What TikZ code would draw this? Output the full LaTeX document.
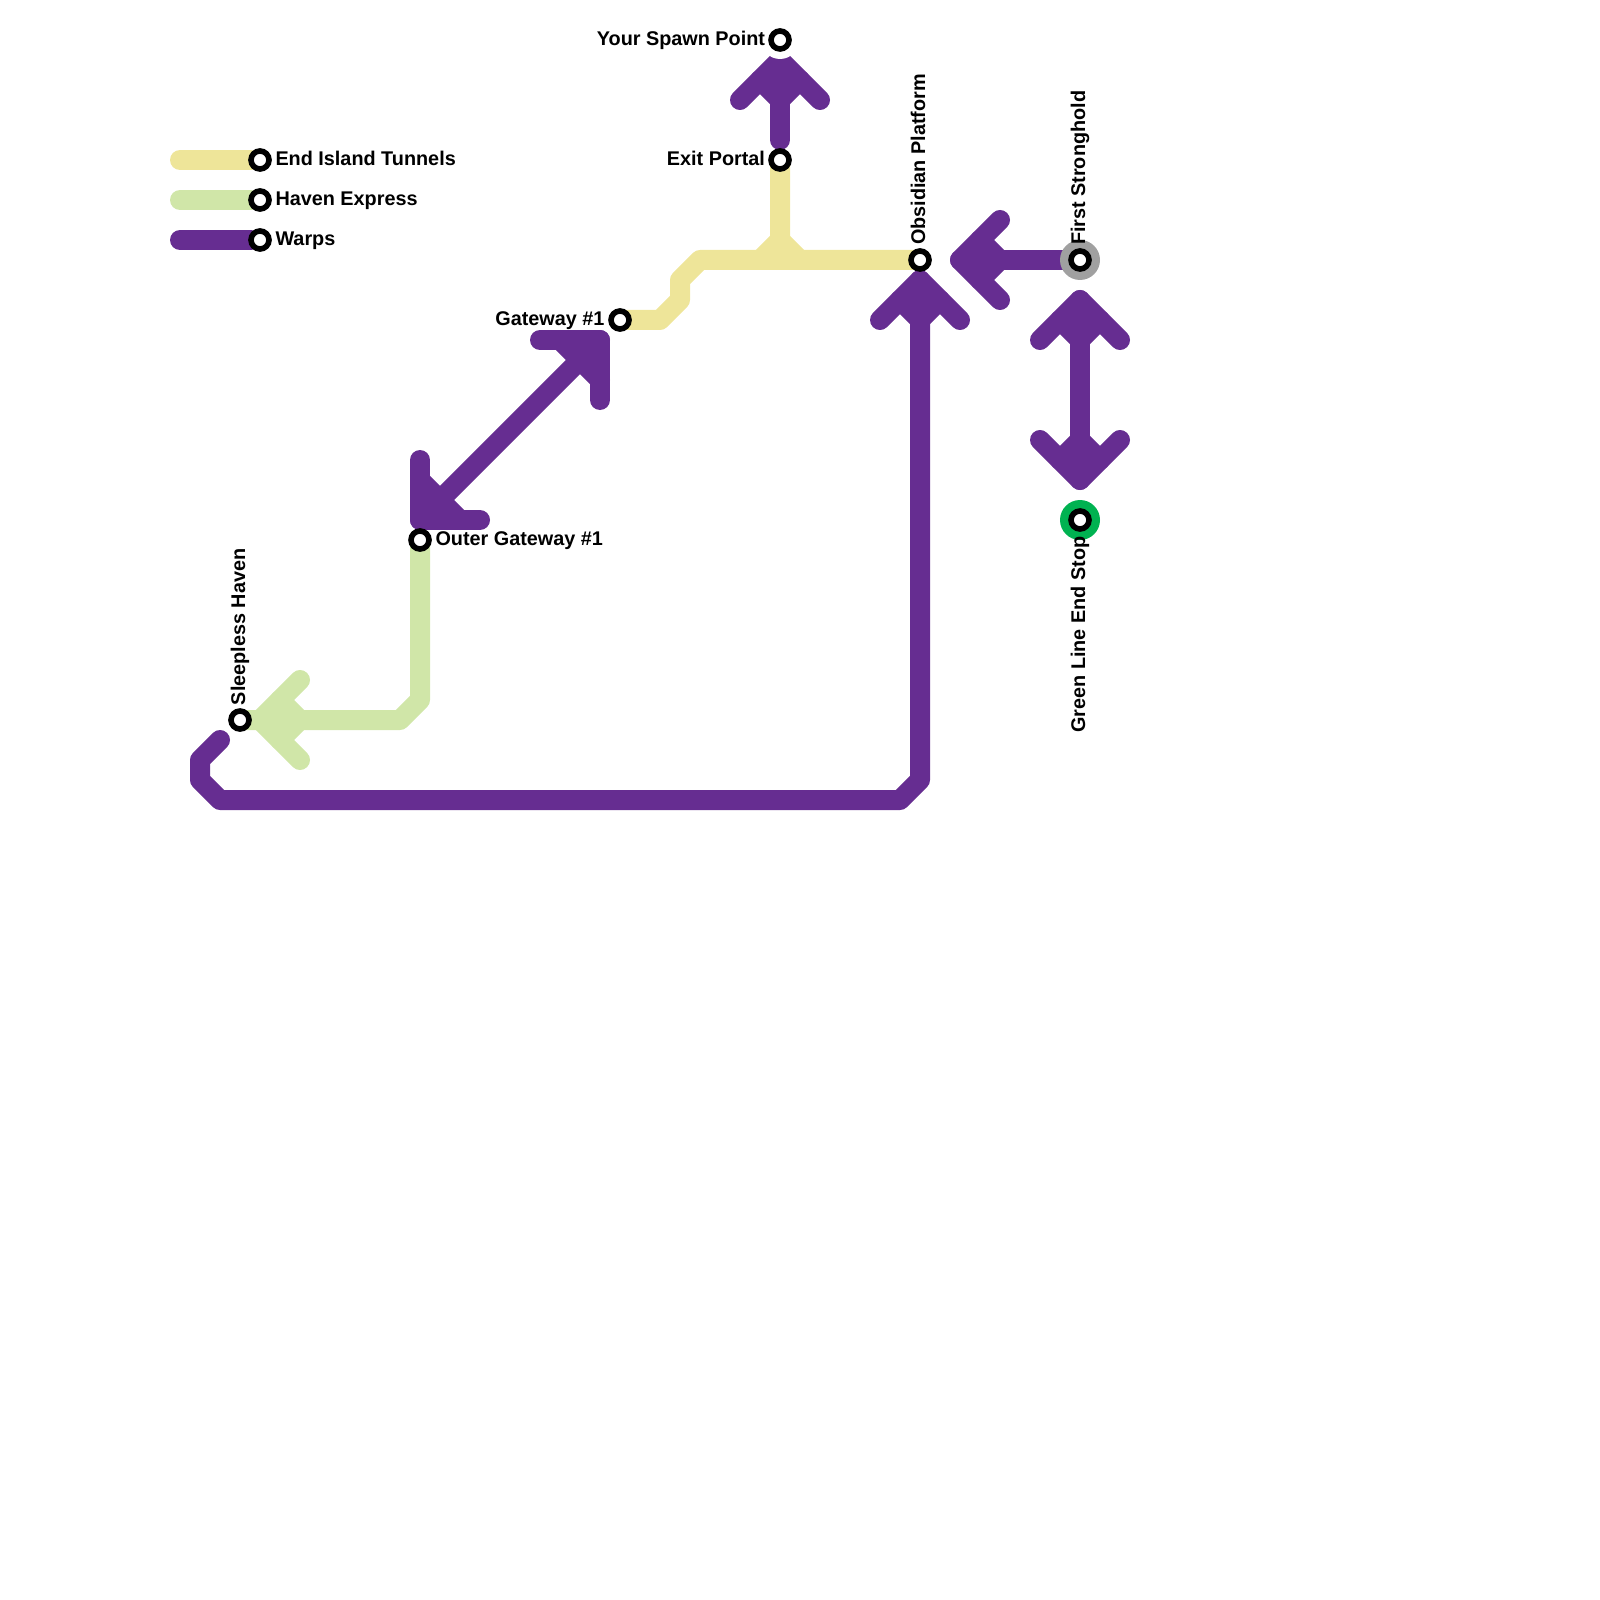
\documentclass[tikz,border=0pt]{standalone}
\usepackage{fontspec}
\setmainfont{Liberation Sans}
\usetikzlibrary{backgrounds}
\definecolor{tunnelcol}{HTML}{EEE599}
\definecolor{havencol}{HTML}{D0E6A8}
\definecolor{warpcol}{HTML}{662D91}
\definecolor{ringgray}{HTML}{A0A0A0}
\definecolor{ringgreen}{HTML}{00B251}
\tikzset{
  tunnels/.style={draw=tunnelcol, line width=5mm, line cap=round, line join=round},
  haven/.style={draw=havencol, line width=5mm, line cap=round, line join=round},
  warps/.style={draw=warpcol, line width=5mm, line cap=round, line join=round},
  station/.style={circle, draw=black, fill=white, line width=1.4mm, minimum size=4.5mm, inner sep=0pt, outer sep=0pt},
  ring/.style={circle, fill=#1, minimum size=10mm, inner sep=0pt, outer sep=0pt},
  lbl/.style={inner sep=0pt, outer sep=0pt, font=\bfseries\fontsize{14.1}{16}\selectfont}
}
\begin{document}
\begin{tikzpicture}[x=0.25mm, y=-0.25mm]
\path[use as bounding box] (0,0) rectangle (1600,1600);

\node[circle, fill=white, minimum size=9.5mm, inner sep=0pt] (halo) at (780,40) {};
\node[ring=ringgray] (firstring) at (1080,260) {};
\node[ring=ringgreen] (greenring) at (1080,520) {};

\node[station] (spawn) at (780,40) {};
\node[station] (exit) at (780,160) {};
\node[station] (obsidian) at (920,260) {};
\node[station] (first) at (1080,260) {};
\node[station] (greenend) at (1080,520) {};
\node[station] (gateway) at (620,320) {};
\node[station] (outer) at (420,540) {};
\node[station] (sleepless) at (240,720) {};
\node[station] (legA) at (260,160) {};
\node[station] (legB) at (260,200) {};
\node[station] (legC) at (260,240) {};

\coordinate (legAend) at (180,160);
\coordinate (legBend) at (180,200);
\coordinate (legCend) at (180,240);
\coordinate (tipspawn) at (780,60);
\coordinate (tipobs) at (920,280);
\coordinate (tipfirst) at (960,260);
\coordinate (tipup) at (1080,300);
\coordinate (tipdown) at (1080,480);
\coordinate (tipgate) at (600,340);
\coordinate (tipouter) at (420,520);
\coordinate (tiphaven) at (260,720);

\node[lbl, anchor=base west] (legAtxt) at (275.5,165.5) {End Island Tunnels};
\node[lbl, anchor=base west] (legBtxt) at (275.5,205.5) {Haven Express};
\node[lbl, anchor=base west] (legCtxt) at (275.5,245.5) {Warps};
\node[lbl, anchor=base east] (spawntxt) at (765,45.5) {Your Spawn Point};
\node[lbl, anchor=base east] (exittxt) at (765,165.5) {Exit Portal};
\node[lbl, anchor=base east] (gatewaytxt) at (604.5,325.5) {Gateway \#1};
\node[lbl, anchor=base west] (outertxt) at (435.5,545.5) {Outer Gateway \#1};
\node[lbl, anchor=base west, rotate=90] (obsidiantxt) at (925,245) {Obsidian Platform};
\node[lbl, anchor=base west, rotate=90] (firsttxt) at (1085,245) {First Stronghold};
\node[lbl, anchor=base east, rotate=90] (greentxt) at (1085,536.5) {Green Line End Stop};
\node[lbl, anchor=base west, rotate=90] (sleeplesstxt) at (245,705) {Sleepless Haven};

\begin{scope}[on background layer]
\draw[tunnels] (legAend) -- (legA);
\draw[haven] (legBend) -- (legB);
\draw[warps] (legCend) -- (legC);

\draw[tunnels] (gateway.center) -- (660,320) -- (680,300) -- (680,280) -- (700,260) -- (obsidian.center);
\draw[tunnels] (exit.center) -- (780,240) -- (760,260);
\draw[tunnels] (780,240) -- (800,260);

\draw[haven] (outer.center) -- (420,700) -- (400,720) -- (sleepless.center);
\draw[haven] (tiphaven) ++(40,-40) -- (tiphaven) -- ++(40,40);
\draw[haven] (tiphaven) ++(20,-20) -- ++(20,20) -- ++(-20,20);

\draw[warps] (780,140) -- (tipspawn);
\draw[warps] (tipspawn) ++(-40,40) -- (tipspawn) -- ++(40,40);
\draw[warps] (tipspawn) ++(-20,20) -- ++(20,20) -- ++(20,-20);

\draw[warps] (tipobs) -- (920,780) -- (900,800) -- (220,800) -- (200,780) -- (200,760) -- (220,740);
\draw[warps] (tipobs) ++(-40,40) -- (tipobs) -- ++(40,40);
\draw[warps] (tipobs) ++(-20,20) -- ++(20,20) -- ++(20,-20);

\draw[warps] (first.center) -- (tipfirst);
\draw[warps] (tipfirst) ++(40,-40) -- (tipfirst) -- ++(40,40);
\draw[warps] (tipfirst) ++(20,-20) -- ++(20,20) -- ++(-20,20);

\draw[warps] (tipup) -- (tipdown);
\draw[warps] (tipup) ++(-40,40) -- (tipup) -- ++(40,40);
\draw[warps] (tipup) ++(-20,20) -- ++(20,20) -- ++(20,-20);
\draw[warps] (tipdown) ++(-40,-40) -- (tipdown) -- ++(40,-40);
\draw[warps] (tipdown) ++(-20,-20) -- ++(20,-20) -- ++(20,20);

\draw[warps] (tipgate) -- (tipouter);
\draw[warps] (tipgate) ++(-60,0) -- (tipgate) -- ++(0,60);
\draw[warps] (tipgate) ++(-40,0) -- ++(40,40);
\draw[warps] (tipouter) ++(0,-60) -- (tipouter) -- ++(60,0);
\draw[warps] (tipouter) ++(0,-40) -- ++(40,40);
\end{scope}
\end{tikzpicture}
\end{document}
